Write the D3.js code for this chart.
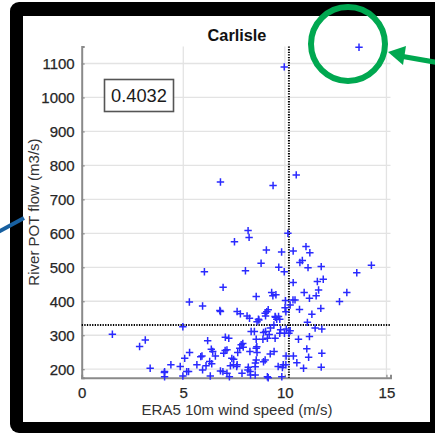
<!DOCTYPE html>
<html><head><meta charset="utf-8">
<script src="https://cdn.jsdelivr.net/npm/d3@7"></script>
<style>html,body{margin:0;padding:0;background:#fff;}svg{display:block;font-family:"Liberation Sans",Arial,Helvetica,sans-serif;}</style>
</head><body>
<svg id="c" width="435" height="435"></svg>
<script>
const title = "Carlisle";
const xLabel = "ERA5 10m wind speed (m/s)";
const yLabel = "River POT flow (m3/s)";
const corrText = "0.4032";
const xTicks = [0, 5, 10, 15];
const yTicks = [200, 300, 400, 500, 600, 700, 800, 900, 1000, 1100];
const xDomain = [0, 15.2];
const yDomain = [175, 1150];
const windThreshold = 10.2;
const flowThreshold = 330;
const windSpeed = [13.65,9.97,6.83,9.42,10.56,8.19,8.24,7.52,10.15,9.09,9.84,10.41,11.04,11.23,
 6.04,8.06,8.83,9.70,9.97,10.74,10.86,11.14,11.79,13.54,14.26,10.41,11.89,11.60,6.96,
 5.30,5.95,8.59,9.35,9.41,9.56,10.03,10.40,10.50,10.95,11.66,11.54,11.21,13.05,12.69,
 6.80,6.83,7.65,7.81,8.14,8.26,8.72,9.05,9.18,9.54,9.75,10.01,10.05,10.26,10.72,11.33,11.77,
 11.11,11.49,11.82,4.98,10.26,1.51,3.13,2.85,3.37,4.08,4.08,4.39,4.85,5.07,5.31,4.98,5.26,
 5.92,6.20,5.67,5.95,6.12,6.33,6.38,6.45,6.30,6.58,6.83,7.15,7.07,7.24,6.99,7.15,7.32,7.48,
 7.65,7.68,7.78,7.85,7.95,7.89,8.18,8.31,8.28,8.34,8.50,8.59,8.92,8.59,8.63,8.55,8.59,8.54,
 8.54,8.95,9.03,9.05,9.23,9.14,8.95,9.29,9.46,9.52,9.28,9.47,9.18,9.14,9.67,9.92,9.88,9.85,
 9.75,9.79,9.98,10.20,10.06,10.42,10.59,10.05,10.67,11.21,11.08,11.17,11.82,11.79,10.92,
 8.63,9.03,9.11,9.52,9.60,10.07,7.27,4.07,5.17,5.86,6.40,7.06,6.95,7.39,7.47,7.63,7.93,8.20,8.29,8.62,8.70,9.69];
const potFlow = [1148,1090,751,741,772,608,588,575,600,551,545,548,561,543,
 487,490,512,500,487,514,520,499,502,484,506,455,465,458,441,
 398,386,414,426,416,419,402,404,404,426,433,416,409,426,399,
 373,370,370,363,357,350,345,357,375,353,347,381,369,389,376,362,379,
 338,321,318,325,313,303,286,267,203,193,178,213,208,232,249,180,193,
 239,284,213,198,210,180,259,252,223,239,195,188,294,291,247,257,210,229,
 213,249,262,272,265,188,198,183,252,311,311,288,288,262,249,218,227,207,
 183,222,227,311,302,291,308,321,330,291,245,252,175,178,208,213,205,178,
 306,316,306,306,239,239,219,213,288,296,260,235,247,206,203,
 340,365,369,355,347,318,178,190,193,237,216,255,193,232,213,208,276,206,193,266,347,355];

const svg = d3.select("#c");

// outer black frame
svg.append("rect").attr("x",10).attr("y",2).attr("width",440).attr("height",431).attr("rx",9).attr("fill","#000");
svg.append("rect").attr("x",23).attr("y",16).attr("width",407).attr("height",406).attr("fill","#fff");

const x = d3.scaleLinear().domain(xDomain).range([81.7, 390.5]);
const y = d3.scaleLinear().domain(yDomain).range([377.7, 46.5]);

// grid
const g = svg.append("g");
g.selectAll(".gx").data(xTicks.filter(d=>d>0)).join("line")
  .attr("x1",d=>x(d)).attr("x2",d=>x(d)).attr("y1",y(yDomain[1])).attr("y2",y(yDomain[0]))
  .attr("stroke","#e3e3e3").attr("stroke-width",1.3);
g.selectAll(".gy").data(yTicks).join("line")
  .attr("x1",x(xDomain[0])).attr("x2",x(xDomain[1])).attr("y1",d=>y(d)).attr("y2",d=>y(d))
  .attr("stroke","#e3e3e3").attr("stroke-width",1.3);

// axes
const xAxis = d3.axisBottom(x).tickValues(xTicks).tickSize(-3).tickPadding(10).tickFormat(d3.format("d"));
const yAxis = d3.axisLeft(y).tickValues(yTicks).tickSize(-3).tickPadding(7).tickFormat(d3.format("d"));
const gx = svg.append("g").attr("transform",`translate(0,${y(yDomain[0])})`).call(xAxis);
const gy = svg.append("g").attr("transform",`translate(${x(xDomain[0])},0)`).call(yAxis);
[gx,gy].forEach(a=>{
  a.select(".domain").attr("stroke","#8a8a8a").attr("stroke-width",2);
  a.selectAll(".tick line").attr("stroke","#8a8a8a").attr("stroke-width",1.2);
  a.selectAll(".tick text").attr("fill","#262626").attr("font-size",15).attr("font-family","Liberation Sans, Arial, sans-serif")
    .attr("stroke","#262626").attr("stroke-width",0.25);
});
gx.selectAll(".tick text").attr("dy","0.71em");

// threshold dotted lines
svg.append("line").attr("x1",x(windThreshold)).attr("x2",x(windThreshold)).attr("y1",y(yDomain[1])).attr("y2",y(yDomain[0]))
  .attr("stroke","#000").attr("stroke-width",2).attr("stroke-dasharray","1.3,1.3");
svg.append("line").attr("x1",x(xDomain[0])).attr("x2",x(xDomain[1])).attr("y1",y(flowThreshold)).attr("y2",y(flowThreshold))
  .attr("stroke","#000").attr("stroke-width",2).attr("stroke-dasharray","1.3,1.3");

// points
const pts = windSpeed.map((w,i)=>({w, f: potFlow[i]}));
const s = 3.7;
svg.append("g").selectAll("path").data(pts).join("path")
  .attr("d",d=>{const cx=x(d.w), cy=y(d.f); return `M${cx-s},${cy}H${cx+s}M${cx},${cy-s}V${cy+s}`;})
  .attr("stroke","#2a2aff").attr("stroke-width",1.5).attr("fill","none");

// correlation box
svg.append("rect").attr("x",104.5).attr("y",79.5).attr("width",69).attr("height",32)
  .attr("fill","#fff").attr("stroke","#555").attr("stroke-width",1.6);
svg.append("text").attr("x",139).attr("y",102).attr("text-anchor","middle").attr("font-size",18.3).attr("fill","#1a1a1a").text(corrText);

// title & labels
svg.append("text").attr("x",237).attr("y",41).attr("text-anchor","middle").attr("font-size",16.3).attr("font-weight","bold").attr("fill","#111").text(title);
svg.append("text").attr("x",237).attr("y",415).attr("text-anchor","middle").attr("font-size",15).attr("fill","#333").text(xLabel);
svg.append("text").attr("transform","translate(39,212) rotate(-90)").attr("text-anchor","middle").attr("font-size",15).attr("fill","#333").text(yLabel);

// annotations
svg.append("circle").attr("cx",348).attr("cy",44).attr("r",37).attr("fill","none").attr("stroke","#00a850").attr("stroke-width",6);
svg.append("line").attr("x1",440).attr("y1",63).attr("x2",400).attr("y2",56).attr("stroke","#00a850").attr("stroke-width",5);
svg.append("path").attr("d","M388,52 L406,46 L403,65 Z").attr("fill","#00a850");
svg.append("line").attr("x1",-2).attr("y1",232).attr("x2",24).attr("y2",218).attr("stroke","#1860a0").attr("stroke-width",4);
</script>
</body></html>
